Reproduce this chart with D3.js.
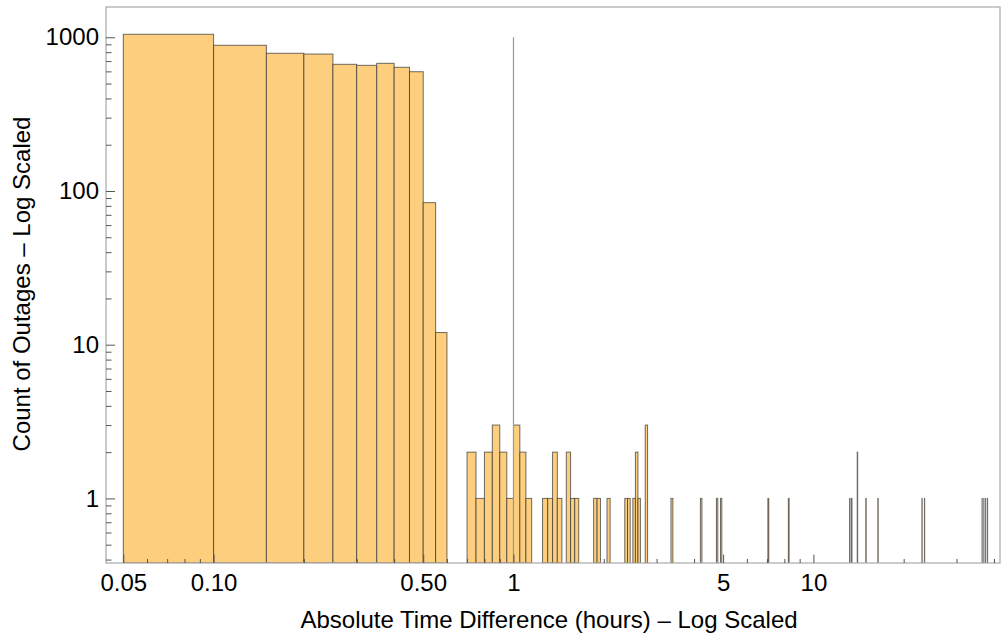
<!DOCTYPE html>
<html>
<head>
<meta charset="utf-8">
<script src="https://cdn.jsdelivr.net/npm/d3@7"></script>
<style>
  html, body { margin: 0; padding: 0; background: #fff; }
  svg { display: block; font-family: "Liberation Sans", Arial, sans-serif; }
</style>
</head>
<body>
<svg id="chart" width="1002" height="639"></svg>
<script>
// ---- data (bin lower edges in hours, bin width 0.05 h) ----
const binWidth = 0.05;
const binStarts = [0.05, 0.10, 0.15, 0.20, 0.25, 0.30, 0.35, 0.40, 0.45, 0.50, 0.55,
  0.70, 0.75, 0.80, 0.85, 0.90, 0.95, 1.00, 1.05, 1.10,
  1.25, 1.30, 1.35, 1.40, 1.50, 1.55, 1.60, 1.85, 1.90, 2.05,
  2.35, 2.40, 2.50, 2.55, 2.60, 2.75, 3.35, 4.20, 4.75, 4.90,
  7.05, 8.25, 13.20, 13.40, 14.00, 14.95, 16.40, 23.00, 23.45,
  36.50, 37.00, 37.50, 38.05];
const counts = [1046, 887, 787, 778, 667, 657, 677, 638, 597, 84, 12,
  2, 1, 2, 3, 2, 1, 3, 2, 1,
  1, 1, 2, 1, 2, 1, 1, 1, 1, 1,
  1, 1, 1, 2, 1, 3, 1, 1, 1, 1,
  1, 1, 1, 1, 2, 1, 1, 1, 1,
  1, 1, 1, 1];
const xMajorTicks = [0.05, 0.10, 0.50, 1, 5, 10];
const xMajorLabels = ["0.05", "0.10", "0.50", "1", "5", "10"];
const xMinorTicks = [0.06, 0.07, 0.08, 0.09, 0.2, 0.3, 0.4, 0.6, 0.7, 0.8, 0.9,
  2, 3, 4, 6, 7, 8, 9, 20, 30, 40];
const yMajorTicks = [1, 10, 100, 1000];
const yMajorLabels = ["1", "10", "100", "1000"];
const yMinorTicks = [0.4, 0.5, 0.6, 0.7, 0.8, 0.9, 2, 3, 4, 5, 6, 7, 8, 9,
  20, 30, 40, 50, 60, 70, 80, 90, 200, 300, 400, 500, 600, 700, 800, 900];
const refLineX = 1;
const refLineTop = 1000;
const xTitle = "Absolute Time Difference (hours) \u2013 Log Scaled";
const yTitle = "Count of Outages \u2013 Log Scaled";

// ---- layout ----
const L = 106, R = 1000, T = 7, B = 563;
const svg = d3.select("#chart");
const x = d3.scaleLog().domain([0.04378, 41.9]).range([L, R]);
const y = d3.scaleLog().domain([0.380, 1574]).range([B, T]);

const data = binStarts.map((s, i) => ({ lo: s, hi: s + binWidth, c: counts[i] }));

const clip = svg.append("clipPath").attr("id", "plotclip")
  .append("rect").attr("x", L).attr("y", T).attr("width", R - L).attr("height", B - T);

const gBars = svg.append("g").attr("clip-path", "url(#plotclip)");
gBars.selectAll("rect.bar").data(data).enter().append("rect")
  .attr("class", "bar")
  .attr("x", d => x(d.lo))
  .attr("width", d => Math.max(0.01, x(d.hi) - x(d.lo)))
  .attr("y", d => y(d.c))
  .attr("height", d => B - y(d.c))
  .attr("fill", "#FCCE7E")
  .attr("stroke", "#333")
  .attr("stroke-opacity", 0.7)
  .attr("stroke-width", 1);

// reference line at 1 hour
svg.append("line")
  .attr("x1", x(refLineX)).attr("x2", x(refLineX))
  .attr("y1", y(refLineTop)).attr("y2", B)
  .attr("stroke", "#999").attr("stroke-width", 1.2);

// frame
svg.append("rect").attr("x", L).attr("y", T).attr("width", R - L).attr("height", B - T)
  .attr("fill", "none").attr("stroke", "#a8a8a8").attr("stroke-width", 1.2);

const tickColor = "#555";
function styleAxis(g) {
  g.select(".domain").remove();
  g.selectAll(".tick line").attr("stroke", tickColor).attr("stroke-width", 1);
  g.selectAll(".tick text").attr("fill", "#000").attr("font-size", 24)
    .attr("font-family", "'Liberation Sans', Arial, sans-serif");
}

// x axis
const gxMinor = svg.append("g").attr("transform", `translate(0,${B})`)
  .call(d3.axisBottom(x).tickValues(xMinorTicks).tickSize(-4).tickFormat(""));
styleAxis(gxMinor);
const gxMajor = svg.append("g").attr("transform", `translate(0,${B})`)
  .call(d3.axisBottom(x).tickValues(xMajorTicks).tickSize(-8.5).tickPadding(11)
    .tickFormat((d, i) => xMajorLabels[i]));
styleAxis(gxMajor);

// y axis
const gyMinor = svg.append("g").attr("transform", `translate(${L},0)`)
  .call(d3.axisLeft(y).tickValues(yMinorTicks).tickSize(-5.5).tickFormat(""));
styleAxis(gyMinor);
const gyMajor = svg.append("g").attr("transform", `translate(${L},0)`)
  .call(d3.axisLeft(y).tickValues(yMajorTicks).tickSize(-9).tickPadding(7)
    .tickFormat((d, i) => yMajorLabels[i]));
styleAxis(gyMajor);

// titles
svg.append("text")
  .attr("x", 549).attr("y", 628)
  .attr("text-anchor", "middle")
  .attr("font-size", 24).attr("fill", "#000")
  .text(xTitle);
svg.append("text")
  .attr("transform", "translate(30,284) rotate(-90)")
  .attr("text-anchor", "middle")
  .attr("font-size", 24).attr("fill", "#000")
  .text(yTitle);
</script>
</body>
</html>
